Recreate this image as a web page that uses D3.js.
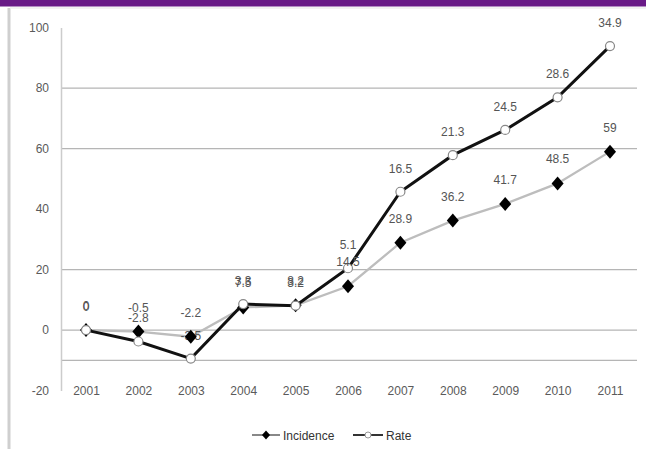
<!DOCTYPE html>
<html>
<head>
<meta charset="utf-8">
<script src="https://cdn.jsdelivr.net/npm/d3@7"></script>
<style>
  html, body { margin: 0; padding: 0; background: #fff; }
  svg { display: block; }
  text { font-family: "Liberation Sans", Arial, sans-serif; }
</style>
</head>
<body>
<svg id="chart" width="646" height="459"></svg>
<script>
// ---- data ----
const years = ["2001","2002","2003","2004","2005","2006","2007","2008","2009","2010","2011"];
const incidence = [0, -0.5, -2.2, 7.5, 8.2, 14.5, 28.9, 36.2, 41.7, 48.5, 59];
const incidenceLabels = ["0","-0.5","-2.2","7.5","8.2","14.5","28.9","36.2","41.7","48.5","59"];
// Rate is plotted against a hidden secondary axis
const rate = [0, -1.4, -3.5, 3.2, 3.0, 7.6, 17.0, 21.5, 24.6, 28.6, 34.9];
const rateLabels = ["0","-2.8","-3.5","3.3","3.2","5.1","16.5","21.3","24.5","28.6","34.9"];
const yTicks = [-20, 0, 20, 40, 60, 80, 100];
const gridValues = [80, 60, 20, 0, -10];
const seriesNames = ["Incidence", "Rate"];

// ---- layout ----
const svg = d3.select("#chart");
const x = d3.scalePoint().domain(years).range([86, 610]);
const y = d3.scaleLinear().domain([-20, 100]).range([390.6, 27.6]);
const y2 = d3.scaleLinear().domain([-20 / 2.69, 100 / 2.69]).range([390.6, 27.6]);

// frame
svg.append("rect").attr("x", 0).attr("y", 0).attr("width", 646).attr("height", 6.5).attr("fill", "#691a87");
svg.append("line").attr("x1", 9).attr("x2", 9).attr("y1", 8).attr("y2", 449)
  .attr("stroke", "#cfcfcf").attr("stroke-width", 3);
svg.append("line").attr("x1", 10).attr("x2", 646).attr("y1", 8).attr("y2", 8)
  .attr("stroke", "#eeeeee").attr("stroke-width", 1.5);

// gridlines
svg.append("g").selectAll("line").data(gridValues).join("line")
  .attr("x1", 61).attr("x2", 637)
  .attr("y1", d => y(d)).attr("y2", d => y(d))
  .attr("stroke", "#b5b5b5").attr("stroke-width", 1.3);

// y axis
const yAxis = d3.axisLeft(y).tickValues(yTicks).tickSize(0).tickPadding(12)
  .tickFormat(d => String(d));
const gy = svg.append("g").attr("transform", "translate(61,0)").call(yAxis);
gy.select(".domain").attr("stroke", "#cccccc").attr("stroke-width", 1.5);
gy.selectAll("text").attr("fill", "#5a5a5a").attr("font-size", 12).attr("dy", "0.32em");

// x axis labels
const xAxis = d3.axisBottom(x).tickSize(0).tickPadding(0);
const gx = svg.append("g").attr("transform", `translate(0,${y(-20) - 4})`).call(xAxis);
gx.select(".domain").remove();
gx.selectAll("text").attr("fill", "#5a5a5a").attr("font-size", 12);

// lines
const lineInc = d3.line().x((d, i) => x(years[i])).y(d => y(d));
const lineRate = d3.line().x((d, i) => x(years[i])).y(d => y2(d));

svg.append("path").datum(incidence).attr("d", lineInc)
  .attr("fill", "none").attr("stroke", "#bdbdbd").attr("stroke-width", 2.3);

function diamond(cx, cy, w, h) {
  return `M${cx},${cy - h}L${cx + w},${cy}L${cx},${cy + h}L${cx - w},${cy}Z`;
}

// rate labels (drawn under markers)
svg.append("g").selectAll("text").data(rate).join("text")
  .attr("x", (d, i) => x(years[i]))
  .attr("y", d => y2(d) - 19)
  .attr("text-anchor", "middle")
  .attr("font-size", 12).attr("fill", "#555")
  .text((d, i) => rateLabels[i]);

svg.append("g").selectAll("path").data(incidence).join("path")
  .attr("d", (d, i) => diamond(x(years[i]), y(d), 6, 7))
  .attr("fill", "#000");

svg.append("path").datum(rate).attr("d", lineRate)
  .attr("fill", "none").attr("stroke", "#111").attr("stroke-width", 3);

svg.append("g").selectAll("circle").data(rate).join("circle")
  .attr("cx", (d, i) => x(years[i])).attr("cy", d => y2(d)).attr("r", 4.5)
  .attr("fill", "#fff").attr("stroke", "#888").attr("stroke-width", 1.2);

// incidence labels
svg.append("g").selectAll("text").data(incidence).join("text")
  .attr("x", (d, i) => x(years[i]))
  .attr("y", d => y(d) - 20)
  .attr("text-anchor", "middle")
  .attr("font-size", 12).attr("fill", "#555")
  .text((d, i) => incidenceLabels[i]);

// legend
const lg = svg.append("g");
lg.append("line").attr("x1", 252).attr("x2", 280).attr("y1", 435).attr("y2", 435)
  .attr("stroke", "#888").attr("stroke-width", 2);
lg.append("path").attr("d", diamond(266, 435, 4, 4.5)).attr("fill", "#000");
lg.append("text").attr("x", 283).attr("y", 439.5).attr("font-size", 12).attr("fill", "#333")
  .text(seriesNames[0]);
lg.append("line").attr("x1", 353).attr("x2", 383).attr("y1", 435).attr("y2", 435)
  .attr("stroke", "#333").attr("stroke-width", 2);
lg.append("circle").attr("cx", 368).attr("cy", 435).attr("r", 3)
  .attr("fill", "#fff").attr("stroke", "#999").attr("stroke-width", 1);
lg.append("text").attr("x", 386).attr("y", 439.5).attr("font-size", 12).attr("fill", "#333")
  .text(seriesNames[1]);
</script>
</body>
</html>
